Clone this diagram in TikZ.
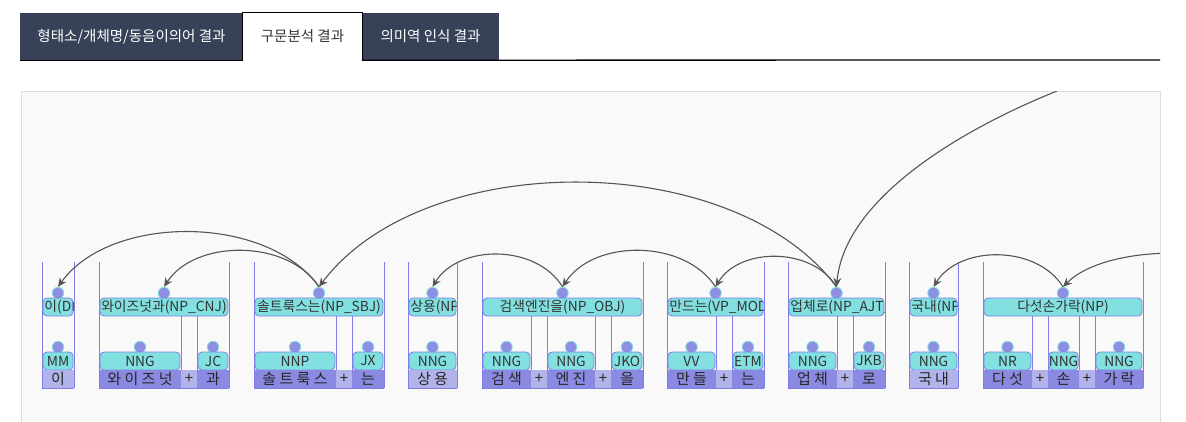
\documentclass[tikz,border=0pt]{standalone}
\usepackage{fontspec}
\setmainfont{Noto Sans CJK KR}
\usepackage{tikz}
\usetikzlibrary{positioning}
\usetikzlibrary{arrows.meta}

\definecolor{tabdark}{HTML}{374259}
\definecolor{textdark}{HTML}{333333}
\definecolor{panelbg}{HTML}{F9F9F9}
\definecolor{panelline}{HTML}{DDDDDD}
\definecolor{blueline}{HTML}{7E7EE6}
\definecolor{cyanfill}{HTML}{82E0E0}
\definecolor{dotfill}{HTML}{8E8EE2}
\definecolor{formdark}{HTML}{8A8AE2}
\definecolor{formlight}{HTML}{B3B3EC}
\definecolor{arcgrey}{HTML}{555555}

\tikzset{
  colline/.style={draw=blueline, line width=1pt},
  dot/.style={circle, fill=dotfill, draw=cyanfill, line width=0.8pt, minimum size=11.5pt, inner sep=0pt},
  wordbox/.style={rounded corners=4pt, fill=cyanfill, draw=blueline, line width=0.8pt, minimum height=18pt, inner sep=0pt},
  wordtext/.style={inner sep=1pt, text=textdark, font=\fontsize{13.8}{15}\selectfont},
  tagbox/.style={rounded corners=4pt, fill=cyanfill, draw=blueline, line width=0.8pt, minimum height=18pt, inner sep=0pt, text=textdark, font=\fontsize{13.8}{15}\selectfont},
  formcell/.style={minimum height=19pt, inner sep=0pt, text=black!85, font=\fontsize{15}{16}\selectfont},
  tab/.style={minimum height=47pt, inner sep=0pt, font=\fontsize{14.5}{16}\selectfont},
  tabline/.style={draw=black, line width=1.3pt},
  dep/.style={draw=arcgrey, line width=1.1pt, -{Stealth[length=9pt,width=8pt,inset=3pt]}},
}

% one morpheme: name, left, right, tag, form, fill
\newcommand{\morph}[6]{%
  \draw[colline] (#2,316) -- (#2,370) (#3,316) -- (#3,370);
  \node[dot] (#1) at ({(#2+#3)/2},347) {};
  \node[tagbox, minimum width=#3pt-#2pt-2pt] (#1b) at ({(#2+#3)/2},361) {#4};
  \node[formcell, fill=#6, minimum width=#3pt-#2pt] (#1f) at ({(#2+#3)/2},379) {#5};
}
% plus sign between morphemes
\newcommand{\plus}[3]{%
  \node[formcell, fill=formlight, minimum width=#3pt-#2pt] (#1) at ({(#2+#3)/2},379) {+};
}
% word column: name, left, right, label, anchor of label
\newcommand{\wordcol}[5]{%
  \draw[colline] (#2,262) -- (#2,388) (#3,262) -- (#3,388) (#2,388) -- (#3,388);
  \node[dot] (#1) at ({(#2+#3)/2},293) {};
  \node[wordbox, minimum width=#3pt-#2pt-2pt,
    path picture={\node[wordtext, anchor=#5] (#1l) at (path picture bounding box.#5) {#4};}]
    (#1b) at ({(#2+#3)/2},307) {};
}

\begin{document}
\begin{tikzpicture}[x=1pt, y=-1pt]
\useasboundingbox (0,0) rectangle (1186,421);

% tabs
\node[tab, fill=tabdark, text=white, minimum width=223pt] (tabmorph) at (131.5,36.5) {형태소/개체명/동음이의어 결과};
\node[tab, text=textdark, minimum width=119pt] (tabparse) at (302.5,36.5) {구문분석 결과};
\node[tab, fill=tabdark, text=white, minimum width=137pt] (tabrole) at (430.5,36.5) {의미역 인식 결과};
\coordinate (barend) at (1160,60);
\draw[tabline] (tabmorph.south west) -- (tabmorph.south east);
\draw[tabline] (tabparse.south west) |- (tabparse.north east) -- (tabparse.south east);
\draw[tabline] (tabrole.south west) -- (barend);

% panel
\fill[panelbg] (21,91) rectangle (1160,425);
\draw[panelline] (21,425) -- (21,91) -- (1160,91) -- (1160,425);

% words
\morph{m11}{42}{74}{MM}{이}{formlight}
\wordcol{w1}{42}{74}{이(DP)}{west}

\morph{m21}{99}{181}{NNG}{와 이 즈 넛}{formdark}
\plus{p21}{181}{197}
\morph{m22}{197}{229}{JC}{과}{formdark}
\wordcol{w2}{99}{229}{와이즈넛과(NP\_CNJ)}{center}

\morph{m31}{254}{336}{NNP}{솔 트 룩 스}{formdark}
\plus{p31}{336}{352}
\morph{m32}{352}{384}{JX}{는}{formdark}
\wordcol{w3}{254}{384}{솔트룩스는(NP\_SBJ)}{center}

\morph{m41}{408}{457}{NNG}{상 용}{formlight}
\wordcol{w4}{408}{457}{상용(NP)}{west}

\morph{m51}{482}{531}{NNG}{검 색}{formdark}
\plus{p51}{531}{547}
\morph{m52}{547}{595}{NNG}{엔 진}{formdark}
\plus{p52}{595}{611}
\morph{m53}{611}{643}{JKO}{을}{formdark}
\wordcol{w5}{482}{643}{검색엔진을(NP\_OBJ)}{center}

\morph{m61}{667}{716}{VV}{만 들}{formdark}
\plus{p61}{716}{732}
\morph{m62}{732}{764}{ETM}{는}{formdark}
\wordcol{w6}{667}{764}{만드는(VP\_MOD)}{west}

\morph{m71}{788}{837}{NNG}{업 체}{formdark}
\plus{p71}{837}{853}
\morph{m72}{853}{885}{JKB}{로}{formdark}
\wordcol{w7}{788}{885}{업체로(NP\_AJT)}{west}

\morph{m81}{909}{958}{NNG}{국 내}{formlight}
\wordcol{w8}{909}{958}{국내(NP)}{west}

\morph{m91}{983}{1032}{NR}{다 섯}{formdark}
\plus{p91}{1032}{1048}
\morph{m92}{1048}{1079}{NNG}{손}{formdark}
\plus{p92}{1079}{1095}
\morph{m93}{1095}{1143}{NNG}{가 락}{formdark}
\wordcol{w9}{983}{1143}{다섯손가락(NP)}{center}

% dependency arcs
\begin{scope}
\clip (21,91) rectangle (1160,425);
\coordinate (deptop) at (1057,91);
\coordinate (depright) at (1290,288);
\draw[dep] (w3.north) .. controls +(-52,-73) and +(52,-73) .. (w1.north);
\draw[dep] (w3.north) .. controls +(-31,-48) and +(31,-48) .. (w2.north);
\draw[dep] (w7.north) .. controls +(-104,-139) and +(104,-139) .. (w3.north);
\draw[dep] (w5.north) .. controls +(-26,-43) and +(26,-43) .. (w4.north);
\draw[dep] (w6.north) .. controls +(-31,-48) and +(31,-48) .. (w5.north);
\draw[dep] (w7.north) .. controls +(-24,-40) and +(24,-40) .. (w6.north);
\draw[dep] (w9.north) .. controls +(-26,-42) and +(26,-42) .. (w8.north);
\draw[dep] (depright) .. controls +(-45,-45) and +(45,-45) .. (w9.north);
\draw[dep] (deptop) .. controls +(-97,39) and +(8,-88) .. (w7.north);
\end{scope}
\end{tikzpicture}
\end{document}
